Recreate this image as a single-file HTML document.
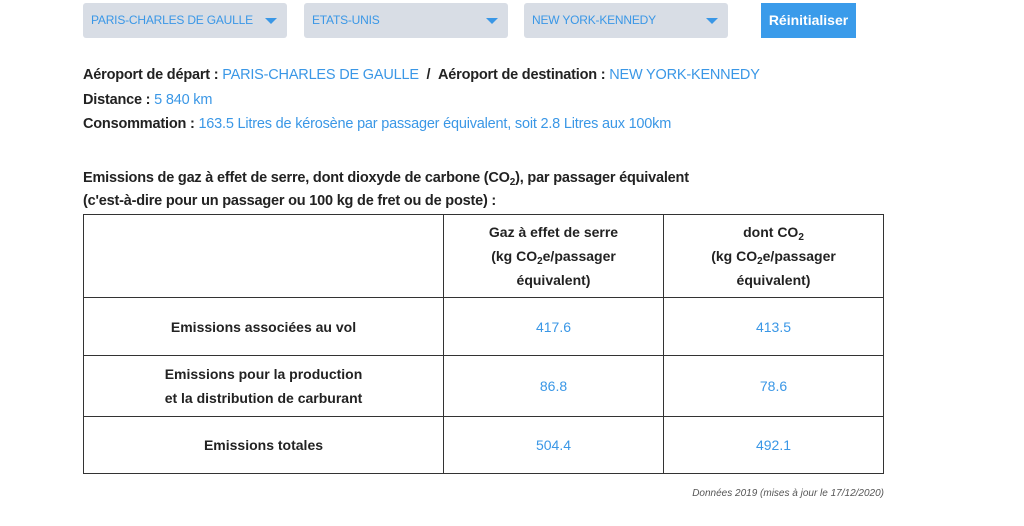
<!DOCTYPE html>
<html><head><meta charset="utf-8"><style>
body{margin:0;width:1024px;height:526px;background:#fff;font-family:"Liberation Sans",sans-serif;position:relative;overflow:hidden;color:#222}
.dd{position:absolute;top:3px;height:35px;width:204px;background:#d8dde5;border-radius:3px;font-size:12px;color:#3a97e6;line-height:35px;box-sizing:border-box;padding-left:8px;letter-spacing:-0.2px}
.dd:after{content:"";position:absolute;right:10px;top:15px;border-left:6px solid transparent;border-right:6px solid transparent;border-top:6px solid #3a97e6}
.btn{position:absolute;left:761px;top:3px;width:95px;height:35px;background:#3a9bea;color:#fff;font-weight:bold;font-size:14px;line-height:34px;text-align:center}
.t{position:absolute;left:83px;font-size:14.5px;white-space:nowrap;letter-spacing:-0.2px;line-height:18px}
.t b{color:#222}
.bl{color:#3a97e6}
sub{font-size:10px;vertical-align:-3px;line-height:0}
table{position:absolute;left:83px;top:214px;width:801px;border-collapse:collapse;font-size:14px;table-layout:fixed}
td{border:1px solid #333;text-align:center;line-height:24px;padding:0}
td.h{font-weight:bold}
td.v{color:#3a97e6}
.f{position:absolute;right:140px;top:488px;font-size:10px;font-style:italic;color:#555}
</style></head><body>
<div class="dd" style="left:83px">PARIS-CHARLES DE GAULLE</div>
<div class="dd" style="left:304px">ETATS-UNIS</div>
<div class="dd" style="left:524px">NEW YORK-KENNEDY</div>
<div class="btn">Réinitialiser</div>
<div class="t" style="top:66px"><b>Aéroport de départ :</b> <span class="bl">PARIS-CHARLES DE GAULLE</span> &nbsp;<b>/</b>&nbsp; <b>Aéroport de destination :</b> <span class="bl">NEW YORK-KENNEDY</span></div>
<div class="t" style="top:91px"><b>Distance :</b> <span class="bl">5 840 km</span></div>
<div class="t" style="top:115px"><b>Consommation :</b> <span class="bl">163.5 Litres de kérosène par passager équivalent, soit 2.8 Litres aux 100km</span></div>
<div class="t" style="top:169px;font-weight:bold">Emissions de gaz à effet de serre, dont dioxyde de carbone (CO<sub>2</sub>), par passager équivalent</div>
<div class="t" style="top:192px;font-weight:bold">(c'est-à-dire pour un passager ou 100 kg de fret ou de poste) :</div>
<table>
<col style="width:360px"><col style="width:220px"><col>
<tr style="height:83px"><td></td><td class="h">Gaz à effet de serre<br>(kg CO<sub>2</sub>e/passager<br>équivalent)</td><td class="h">dont CO<sub>2</sub><br>(kg CO<sub>2</sub>e/passager<br>équivalent)</td></tr>
<tr style="height:58px"><td class="h">Emissions associées au vol</td><td class="v">417.6</td><td class="v">413.5</td></tr>
<tr style="height:61px"><td class="h">Emissions pour la production<br>et la distribution de carburant</td><td class="v">86.8</td><td class="v">78.6</td></tr>
<tr style="height:57px"><td class="h">Emissions totales</td><td class="v">504.4</td><td class="v">492.1</td></tr>
</table>
<div class="f">Données 2019 (mises à jour le 17/12/2020)</div>
</body></html>
